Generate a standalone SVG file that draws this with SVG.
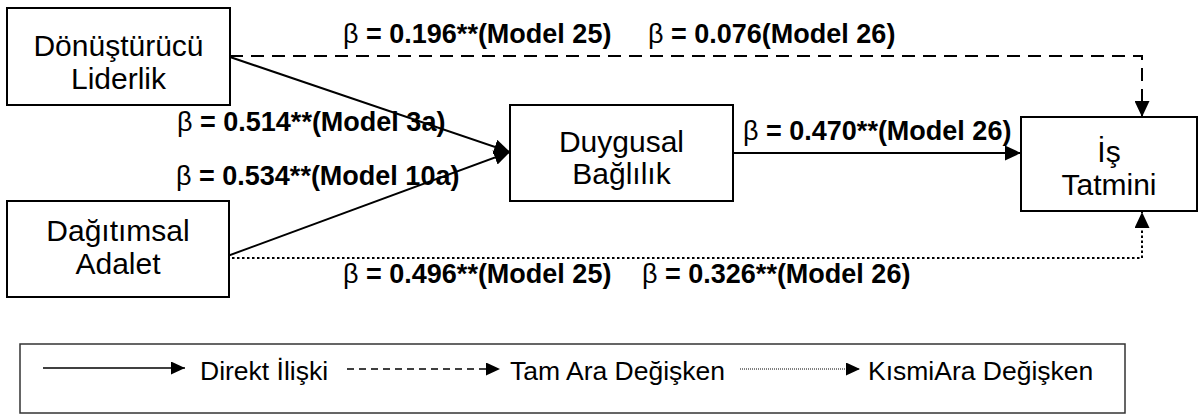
<svg xmlns="http://www.w3.org/2000/svg" width="1204" height="416" viewBox="0 0 1204 416">
<style>
.box{fill:#fff;stroke:#000;stroke-width:2}
.nt{font-family:"Liberation Sans",Arial,sans-serif;font-size:30px;fill:#000;text-anchor:middle}
.lb{font-family:"Liberation Sans",Arial,sans-serif;font-size:27px;font-weight:bold;fill:#000}
.b{font-weight:normal}
.lg{font-family:"Liberation Sans",Arial,sans-serif;font-size:26.5px;fill:#000}
.c{fill:none;stroke:#000;stroke-width:2}
.lc{fill:none;stroke:#000;stroke-width:1.5}
</style>
<defs>
<marker id="ah" markerUnits="userSpaceOnUse" markerWidth="17" markerHeight="15" refX="16" refY="7.5" orient="auto"><path d="M0,0 L16,7.5 L0,15 z" fill="#000"/></marker>
<marker id="ahs" markerUnits="userSpaceOnUse" markerWidth="15" markerHeight="13" refX="14" refY="6.5" orient="auto"><path d="M0,0 L14,6.5 L0,13 z" fill="#000"/></marker>
</defs>
<g id="connectors">
<path class="c" d="M230,57 L510,152" marker-end="url(#ah)"/>
<path class="c" d="M222,258 L510,152" marker-end="url(#ah)"/>
<path class="c" d="M733,153 L1021,153" marker-end="url(#ah)"/>
<path class="c" d="M230,56 H1142 V117" stroke-dasharray="13 8" marker-end="url(#ah)"/>
<path class="c" d="M222,258 H1142 V212" stroke-dasharray="2.5 2.5" marker-end="url(#ah)"/>
</g>
<g id="node-donusturucu">
<rect class="box" x="7" y="8" width="223" height="97"/>
<text class="nt" x="118.5" y="56">Dönüştürücü</text>
<text class="nt" x="118.5" y="89">Liderlik</text>
</g>
<g id="node-dagitimsal">
<rect class="box" x="7" y="201" width="222" height="96"/>
<text class="nt" x="118" y="241">Dağıtımsal</text>
<text class="nt" x="118" y="274">Adalet</text>
</g>
<g id="node-duygusal">
<rect class="box" x="510" y="105" width="223" height="96"/>
<text class="nt" x="621.5" y="152">Duygusal</text>
<text class="nt" x="621.5" y="184">Bağlılık</text>
</g>
<g id="node-is">
<rect class="box" x="1021" y="117" width="176" height="94"/>
<text class="nt" x="1109" y="162">İş</text>
<text class="nt" x="1109" y="195">Tatmini</text>
</g>
<g id="labels">
<text class="lb" x="343" y="43"><tspan class="b">β</tspan> = 0.196**(Model 25)</text>
<text class="lb" x="648" y="43"><tspan class="b">β</tspan> = 0.076(Model 26)</text>
<text class="lb" x="177" y="131"><tspan class="b">β</tspan> = 0.514**(Model 3a)</text>
<text class="lb" x="176" y="185"><tspan class="b">β</tspan> = 0.534**(Model 10a)</text>
<text class="lb" x="743" y="140"><tspan class="b">β</tspan> = 0.470**(Model 26)</text>
<text class="lb" x="343" y="283"><tspan class="b">β</tspan> = 0.496**(Model 25)</text>
<text class="lb" x="642" y="283"><tspan class="b">β</tspan> = 0.326**(Model 26)</text>
</g>
<g id="legend">
<rect x="20" y="344" width="1105" height="69" fill="#fff" stroke="#333" stroke-width="1.5"/>
<path class="lc" d="M43,368 H185" marker-end="url(#ahs)"/>
<text class="lg" x="200" y="380">Direkt İlişki</text>
<path class="lc" d="M347,369 H500" stroke-dasharray="7 5" marker-end="url(#ahs)"/>
<text class="lg" x="510" y="380">Tam Ara Değişken</text>
<path d="M740,369 H860" fill="none" stroke="#000" stroke-width="1" stroke-dasharray="1 1" marker-end="url(#ahs)"/>
<text class="lg" x="868" y="380">KısmiAra Değişken</text>
</g>
</svg>
